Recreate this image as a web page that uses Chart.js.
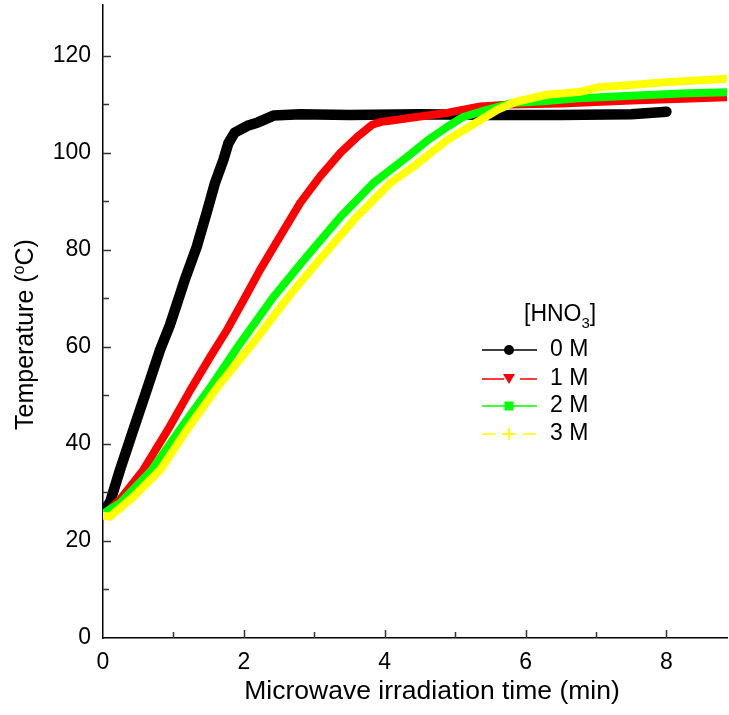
<!DOCTYPE html>
<html>
<head>
<meta charset="utf-8">
<script src="https://cdn.jsdelivr.net/npm/chart.js@4.4.1/dist/chart.umd.min.js"></script>
<style>
  body { margin: 0; background: #fff; }
  #box { width: 729px; height: 715px; position: relative; }
</style>
</head>
<body>
<div id="box"><canvas id="grafico"></canvas></div>
<script>
// valori (tempo in min, temperatura in °C)
const serieNomi = ["0 M", "1 M", "2 M", "3 M"];
const serieColori = ["#000000", "#ff0000", "#00ff00", "#ffff00"];

const t0 = [0, 0.1, 0.24, 0.43, 0.62, 0.81, 0.95, 1.16, 1.33, 1.47, 1.59, 1.71, 1.78, 1.87, 1.95, 2.05, 2.2, 2.42, 2.8, 3.5, 4.5, 5.5, 6.5, 7.5, 8.0];
const T0 = [25.8, 28, 34.6, 42.9, 51.1, 59.4, 64.5, 73.8, 80.6, 87.6, 93.8, 98.6, 102, 104.2, 104.8, 105.6, 106.3, 107.7, 108, 107.8, 108, 107.8, 107.8, 108.0, 108.5];

const t1 = [0, 0.24, 0.57, 0.92, 1.24, 1.52, 1.76, 2.02, 2.23, 2.51, 2.8, 3.08, 3.37, 3.61, 3.82, 3.95, 4.1, 4.5, 4.9, 5.36, 5.8, 6.5, 7.5, 8.86];
const T1 = [25.2, 28.5, 34.6, 42.9, 51.1, 57.9, 63.5, 70.3, 75.9, 82.7, 89.7, 95.1, 100, 103.3, 105.8, 106.4, 106.7, 107.5, 108.3, 109.6, 110.0, 110.2, 110.8, 111.5];

const t2 = [0, 0.24, 0.69, 1.09, 1.55, 1.95, 2.42, 2.89, 3.37, 3.84, 4.32, 4.6, 4.89, 5.11, 5.36, 5.82, 6.3, 6.78, 7.5, 8.3, 8.86];
const T2 = [25.6, 27.8, 34.6, 42.9, 52.2, 60.8, 70.3, 78.6, 86.8, 93.8, 99.2, 102.5, 105.4, 107.4, 108.5, 110.3, 110.7, 111.3, 111.8, 112.3, 112.5];

const t3 = [0, 0.1, 0.43, 0.81, 1.19, 1.64, 2.13, 2.63, 3.11, 3.6, 4.08, 4.4, 4.89, 5.36, 5.6, 5.85, 6.3, 6.78, 7.06, 7.5, 8.0, 8.5, 8.86];
const T3 = [25.2, 25.0, 29.1, 34.6, 42.9, 52.0, 60.8, 70.3, 78.6, 86.8, 93.8, 97.1, 102.7, 106.8, 108.9, 110.5, 112, 112.6, 113.6, 114, 114.6, 115, 115.3];

const xTicks = [0, 1, 2, 3, 4, 5, 6, 7, 8];
const yTicks = [0, 10, 20, 30, 40, 50, 60, 70, 80, 90, 100, 110, 120];

const tempi = [t0, t1, t2, t3];
const temp = [T0, T1, T2, T3];

const FONT = "'Liberation Sans', Arial, sans-serif";

const datasets = serieNomi.map((nome, i) => ({
    label: nome,
    data: tempi[i].map((t, k) => ({ x: t, y: temp[i][k] })),
    borderColor: serieColori[i],
    backgroundColor: serieColori[i],
    borderWidth: i === 0 ? 10.5 : 8,
    pointRadius: 0,
    borderCapStyle: "round",
    borderJoinStyle: "round",
    tension: 0,
    order: 3 - i // il giallo sopra tutti
}));

// tacche interne agli assi
const tacchePlugin = {
    id: "tacche",
    afterDraw(chart) {
        const ctx = chart.ctx;
        const { x, y } = chart.scales;
        const area = chart.chartArea;
        ctx.save();
        ctx.strokeStyle = "#333";
        ctx.lineWidth = 1.5;
        xTicks.forEach(v => {
            if (v === 0) return;
            const px = Math.round(x.getPixelForValue(v)) + 0.5;
            const len = v % 2 === 0 ? 8 : 6;
            ctx.beginPath();
            ctx.moveTo(px, area.bottom);
            ctx.lineTo(px, area.bottom - len);
            ctx.stroke();
        });
        yTicks.forEach(v => {
            if (v === 0) return;
            const py = Math.round(y.getPixelForValue(v)) + 0.5;
            const len = v % 20 === 0 ? 8 : 6;
            ctx.beginPath();
            ctx.moveTo(area.left, py);
            ctx.lineTo(area.left + len, py);
            ctx.stroke();
        });
        ctx.restore();
    }
};

// titoli degli assi (la "o" di °C in apice)
const titoliPlugin = {
    id: "titoli",
    afterDraw(chart) {
        const ctx = chart.ctx;
        const area = chart.chartArea;
        ctx.save();
        ctx.fillStyle = "#000";
        ctx.font = "26.5px " + FONT;
        ctx.textAlign = "center";
        ctx.textBaseline = "middle";
        ctx.fillText("Microwave irradiation time (min)", area.left + 329, area.bottom + 54);

        ctx.textAlign = "left";
        ctx.textBaseline = "alphabetic";
        ctx.translate(33, area.bottom - 208);
        ctx.rotate(-Math.PI / 2);
        ctx.font = "25px " + FONT;
        let tx = 0;
        ctx.fillText("Temperature (", tx, 0);
        tx += ctx.measureText("Temperature (").width;
        ctx.font = "16px " + FONT;
        ctx.fillText("o", tx, -9);
        tx += ctx.measureText("o").width;
        ctx.font = "25px " + FONT;
        ctx.fillText("C)", tx, 0);
        ctx.restore();
    }
};

// legenda disegnata dentro l'area del grafico
const legendaPlugin = {
    id: "legenda",
    afterDraw(chart) {
        const ctx = chart.ctx;
        const area = chart.chartArea;
        const x0 = area.left + 379;
        const xText = area.left + 447;
        const yTitle = area.top + 310;
        const righe = [area.top + 345, area.top + 374, area.top + 401, area.top + 429];
        ctx.save();
        ctx.fillStyle = "#000";
        ctx.textBaseline = "middle";
        ctx.font = "23px " + FONT;
        // titolo [HNO3] con pedice
        let tx = area.left + 421;
        ctx.fillText("[HNO", tx, yTitle);
        tx += ctx.measureText("[HNO").width;
        ctx.font = "15px " + FONT;
        ctx.fillText("3", tx, yTitle + 9);
        tx += ctx.measureText("3").width;
        ctx.font = "23px " + FONT;
        ctx.fillText("]", tx, yTitle);

        const tratti = [[], [22, 16], [], [14, 6]];
        righe.forEach((yy, i) => {
            ctx.strokeStyle = serieColori[i];
            ctx.fillStyle = serieColori[i];
            ctx.lineWidth = 1.5;
            ctx.setLineDash(tratti[i]);
            ctx.beginPath();
            ctx.moveTo(x0, yy);
            ctx.lineTo(x0 + 55, yy);
            ctx.stroke();
            ctx.setLineDash([]);
            const mx = x0 + 27;
            ctx.beginPath();
            if (i === 0) {
                ctx.arc(mx, yy, 5, 0, Math.PI * 2);
                ctx.fill();
            } else if (i === 1) {
                ctx.moveTo(mx - 6, yy - 5);
                ctx.lineTo(mx + 6, yy - 5);
                ctx.lineTo(mx, yy + 5);
                ctx.closePath();
                ctx.fill();
            } else if (i === 2) {
                ctx.fillRect(mx - 4.5, yy - 4.5, 9, 9);
            } else {
                ctx.lineWidth = 2;
                ctx.moveTo(mx - 6, yy);
                ctx.lineTo(mx + 6, yy);
                ctx.moveTo(mx, yy - 6);
                ctx.lineTo(mx, yy + 6);
                ctx.stroke();
            }
            ctx.fillStyle = "#000";
            ctx.font = "23px " + FONT;
            ctx.fillText(serieNomi[i], xText, yy);
        });
        ctx.restore();
    }
};

new Chart(document.getElementById("grafico"), {
    type: "line",
    data: { datasets: datasets },
    plugins: [tacchePlugin, titoliPlugin, legendaPlugin],
    options: {
        responsive: true,
        maintainAspectRatio: false,
        animation: false,
        layout: { padding: { top: 5, right: 2, left: 0, bottom: 0 } },
        plugins: {
            legend: { display: false },
            tooltip: { enabled: false }
        },
        scales: {
            x: {
                type: "linear",
                min: 0,
                max: 8.86,
                afterBuildTicks: s => { s.ticks = xTicks.map(v => ({ value: v })); },
                afterFit: s => { s.height = 77; s.paddingLeft = 0; s.paddingRight = 0; },
                grid: { drawOnChartArea: false, drawTicks: false },
                border: { color: "#000", width: 1.5 },
                ticks: {
                    autoSkip: false,
                    maxRotation: 0,
                    padding: 11,
                    color: "#000",
                    font: { family: FONT, size: 23 },
                    callback: v => (v % 2 === 0 ? String(v) : "")
                },
                title: { display: false }
            },
            y: {
                min: 0,
                max: 130.5,
                afterBuildTicks: s => { s.ticks = yTicks.map(v => ({ value: v })); },
                afterFit: s => { s.width = 103; s.paddingTop = 0; s.paddingBottom = 0; },
                grid: { drawOnChartArea: false, drawTicks: false },
                border: { color: "#000", width: 1.5 },
                ticks: {
                    autoSkip: false,
                    padding: 12,
                    color: "#000",
                    font: { family: FONT, size: 23 },
                    callback: v => (v % 20 === 0 ? String(v) : "")
                },
                title: { display: false }
            }
        }
    }
});
</script>
</body>
</html>
